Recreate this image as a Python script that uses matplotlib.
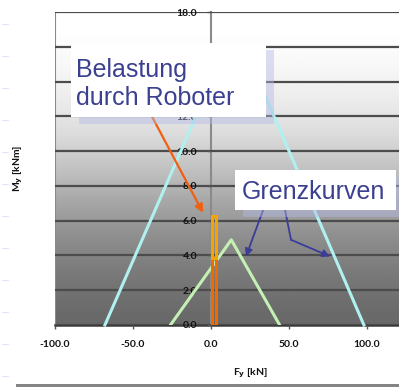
import matplotlib.pyplot as plt
from matplotlib.patches import Rectangle
from matplotlib.lines import Line2D
import numpy as np

# Grenzkurven (limit curves): F_y [kN] against M_y [kNm]
outer_fy = [-68, 5, 26, 98]
outer_my = [0, 15, 15, 0]
inner_fy = [-26, 13, 44]
inner_my = [0, 4.9, 0]

# Belastung durch Roboter: two stacked ranges at F_y ~ 2 kN
load_fy = [1.8, 1.8]
load_bottom = [0.0, 3.85]
load_height = [3.85, 2.4]
load_colors = ['#f06a00', '#f5a300']

x_ticks = [-100, -50, 0, 50, 100]
y_ticks = [0, 2, 4, 6, 8, 10, 12, 14, 16, 18]

W, H = 399, 387
fig = plt.figure(figsize=(W / 100, H / 100), dpi=100)
fig.patch.set_facecolor('white')


def px(x, y):
    # pixel position (from top-left) -> figure fraction
    return x / W, 1 - y / H


ax = fig.add_axes([55 / W, (H - 325) / H, (W - 55) / W, 313 / H])
ax.set_xlim(-100, 120.5)
ax.set_ylim(0, 18)

# grey gradient behind the plot, white at top, dark at bottom
gy = np.linspace(0, 18, 200)
shade = np.interp(gy, [0, 1, 3, 5, 7, 9, 11, 13, 15, 17, 18],
                  [104, 108, 122, 142, 166, 194, 220, 236, 248, 255, 255]) / 255
ax.imshow(shade[:, None], extent=[-100, 120.5, 0, 18], origin='lower',
          cmap='gray', vmin=0, vmax=1, aspect='auto', zorder=0)

ax.set_yticks(y_ticks)
ax.set_yticklabels(['%.1f' % v for v in y_ticks])
ax.set_xticks(x_ticks)
ax.set_xticklabels(['%.1f' % v for v in x_ticks])
ax.grid(axis='y', color='#4c4c4c', lw=1.6, zorder=0.5)
ax.grid(axis='x', visible=False)

for s in ['top', 'right', 'bottom']:
    ax.spines[s].set_visible(False)
ax.spines['left'].set_position(('data', 0))
ax.spines['left'].set_color('#8a8a8a')
ax.spines['left'].set_linewidth(1.5)
ax.spines['left'].set_zorder(0.6)
ax.axvline(-100, color='#8a8a8a', lw=1.5, zorder=0.6)
ax.axhline(0, color='#3a3a3a', lw=1.8, zorder=0.7, clip_on=False)

tick_font = dict(family='Lato', weight='bold', size=7.5)
ax.tick_params(axis='x', length=3, width=1, color='#555555', pad=8)
ax.tick_params(axis='y', length=3, width=1, color='#555555', pad=7)
for lab in ax.get_xticklabels() + ax.get_yticklabels():
    lab.set_fontproperties(tick_font)
    lab.set_color('#111111')

ax.plot(outer_fy, outer_my, color='#b0f0f0', lw=2.2, zorder=2, clip_on=False)
ax.plot(inner_fy, inner_my, color='#c4f0b4', lw=2.2, zorder=2)
ax.bar(load_fy, load_height, bottom=load_bottom, width=2.4,
       facecolor='none', edgecolor=load_colors, lw=2.2, zorder=3)

label_kw = dict(ha='center', va='center', fontfamily='Lato',
                fontweight='bold', fontsize=7.5, color='#111111')
fig.text(*px(250, 373), 'F$_\\mathbf{y}$ [kN]', **label_kw)
fig.text(*px(18, 168), 'M$_\\mathbf{y}$ [kNm]', rotation=90, **label_kw)

# arrows
ax.annotate('', xy=(-5.1, 6.45), xytext=(-38.5, 12.1),
            arrowprops=dict(arrowstyle='-|>', color='#f06010', lw=1.6,
                            mutation_scale=12, shrinkA=0, shrinkB=0), zorder=4)
blue = '#3a3c98'
ax.annotate('', xy=(22.4, 3.94), xytext=(33.5, 6.63),
            arrowprops=dict(arrowstyle='-|>', color=blue, lw=1.3,
                            mutation_scale=11, shrinkA=0, shrinkB=0), zorder=4)
ax.plot([47.4, 51.3], [6.63, 4.9], color=blue, lw=1.3, zorder=4)
ax.annotate('', xy=(76.3, 3.94), xytext=(51.3, 4.9),
            arrowprops=dict(arrowstyle='-|>', color=blue, lw=1.3,
                            mutation_scale=11, shrinkA=0, shrinkB=0), zorder=4)


def callout(x0, y0, x1, y1, zorder):
    sx0, sy0 = px(x0 + 8, y1 + 7)
    sx1, sy1 = px(x1 + 8, y0 + 7)
    fig.patches.append(Rectangle((sx0, sy0), sx1 - sx0, sy1 - sy0,
                                 transform=fig.transFigure, facecolor='#b4bae6',
                                 alpha=0.45, edgecolor='none', zorder=zorder))
    bx0, by0 = px(x0, y1)
    bx1, by1 = px(x1, y0)
    fig.patches.append(Rectangle((bx0, by0), bx1 - bx0, by1 - by0,
                                 transform=fig.transFigure, facecolor='white',
                                 edgecolor='none', zorder=zorder + 0.1))


callout(71, 43, 266, 117, 5)
callout(235, 170, 396, 210, 5)
text_kw = dict(family='Liberation Sans', size=18, color='#3c4090', zorder=6,
               va='baseline', ha='left')
fig.text(*px(76, 105), 'Belastung\ndurch Roboter', linespacing=1.2, **text_kw)
fig.text(*px(242, 199), 'Grenzkurven', **text_kw)

# faint marks on the left edge and grey bar at the bottom
for yy in [24, 56, 88, 120, 152, 184, 216, 248, 280, 312, 344, 376]:
    fig.lines.append(Line2D([2 / W, 8 / W], [1 - yy / H] * 2,
                            transform=fig.transFigure, color='#dde5f6', lw=0.7))
bx, by = px(16, 387)
fig.patches.append(Rectangle((bx, by), 1 - bx, 3 / H, transform=fig.transFigure,
                             facecolor='#858585', edgecolor='none'))

fig.savefig('out.png', dpi=100)
